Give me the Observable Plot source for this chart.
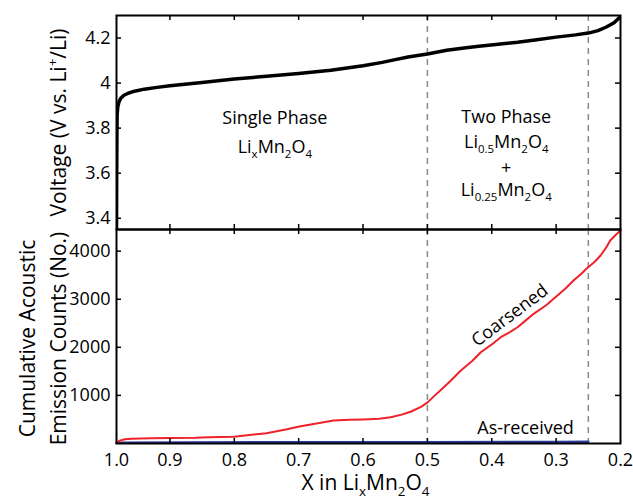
<!DOCTYPE html>
<html>
<head>
<meta charset="utf-8">
<script src="https://cdn.jsdelivr.net/npm/d3@7"></script>
<script src="https://cdn.jsdelivr.net/npm/@observablehq/plot@0.6"></script>
<style>
  html, body { margin: 0; padding: 0; background: white; }
  #chart { width: 633px; line-height: 0; }
  #chart svg { display: block; }
</style>
</head>
<body>
<div id="chart"></div>
<script>
// ---------- data ----------
const xDomain = [0.983, 0.2];                    // X in LixMn2O4 (reversed)
const xTickValues = [0.983, 0.9, 0.8, 0.7, 0.6, 0.5, 0.4, 0.3, 0.2];
const xTickLabels = ["1.0", "0.9", "0.8", "0.7", "0.6", "0.5", "0.4", "0.3", "0.2"];
const xTickMarks = [0.9, 0.8, 0.7, 0.6, 0.5, 0.4, 0.3];
const phaseBounds = [0.5, 0.25];

const vDomain = [3.35, 4.3];
const vTickValues = [3.4, 3.6, 3.8, 4.0, 4.2];
const vTickLabels = ["3.4", "3.6", "3.8", "4", "4.2"];

const aeDomain = [0, 4450];
const aeTickValues = [1000, 2000, 3000, 4000];
const aeTickLabels = ["1000", "2000", "3000", "4000"];

const voltageX = [0.983, 0.9827, 0.9823, 0.982, 0.981, 0.979, 0.976, 0.972, 0.965, 0.955, 0.94, 0.92, 0.9, 0.85, 0.8, 0.75, 0.7, 0.65, 0.6, 0.57, 0.55, 0.53, 0.5, 0.47, 0.44, 0.42, 0.39, 0.36, 0.33, 0.3, 0.27, 0.25, 0.235, 0.222, 0.21, 0.2];
const voltageV = [3.35, 3.60, 3.78, 3.86, 3.895, 3.918, 3.934, 3.945, 3.955, 3.964, 3.973, 3.981, 3.988, 4.003, 4.018, 4.030, 4.043, 4.057, 4.077, 4.092, 4.104, 4.116, 4.129, 4.146, 4.157, 4.163, 4.172, 4.181, 4.192, 4.204, 4.214, 4.222, 4.233, 4.249, 4.268, 4.295];

const coarsX = [0.983, 0.978, 0.97, 0.96, 0.93, 0.9, 0.86, 0.84, 0.8, 0.78, 0.75, 0.72, 0.697, 0.67, 0.646, 0.62, 0.6, 0.575, 0.557, 0.54, 0.526, 0.51, 0.5, 0.49, 0.48, 0.465, 0.448, 0.43, 0.417, 0.4, 0.386, 0.37, 0.36, 0.348, 0.335, 0.315, 0.298, 0.285, 0.273, 0.26, 0.253, 0.24, 0.231, 0.222, 0.216, 0.208, 0.2];
const coarsCounts = [20, 60, 90, 100, 108, 115, 118, 130, 140, 170, 215, 290, 360, 420, 478, 492, 499, 515, 547, 600, 660, 760, 850, 980, 1100, 1290, 1518, 1720, 1898, 2060, 2210, 2330, 2418, 2550, 2697, 2880, 3077, 3230, 3389, 3540, 3632, 3780, 3909, 4080, 4220, 4330, 4428];

const asRecX = [0.983, 0.75, 0.5, 0.3, 0.25];
const asRecCounts = [18, 24, 28, 32, 34];

const topNotes = [
  {x: 0.737, y: 3.843, text: "Single Phase"},
  {x: 0.737, y: 3.714, text: "Li_{x}Mn_{2}O_{4}"},
  {x: 0.3775, y: 3.849, text: "Two Phase"},
  {x: 0.3775, y: 3.738, text: "Li_{0.5}Mn_{2}O_{4}"},
  {x: 0.3775, y: 3.624, text: "+"},
  {x: 0.3775, y: 3.523, text: "Li_{0.25}Mn_{2}O_{4}"}
];
const coarsNote = [{x: 0.372, y: 2661, text: "Coarsened"}];
const asRecNote = [{x: 0.3475, y: 322, text: "As-received"}];

const vLabel = "Voltage (V vs. Li^{+}/Li)";
const aeLabel1 = "Cumulative Acoustic";
const aeLabel2 = "Emission Counts (No.)";
const xLabel = "X in Li_{x}Mn_{2}O_{4}";

// ---------- layout ----------
const font = "'Open Sans', 'Noto Sans', sans-serif";
const W = 633, ML = 116, MR = 13;
const innerW = W - ML - MR;
const panelH = 214;
const tick = 5;

const voltage = voltageX.map((x, i) => ({x, v: voltageV[i]}));
const coarsened = coarsX.map((x, i) => ({x, c: coarsCounts[i]}));
const asReceived = asRecX.map((x, i) => ({x, c: asRecCounts[i]}));

const xFmt = d => xTickLabels[xTickValues.indexOf(d)];
const vFmt = d => vTickLabels[vTickValues.indexOf(d)];
const aeFmt = d => aeTickLabels[aeTickValues.indexOf(d)];

function tickMarks(yTicks) {
  return [
    Plot.ruleY(yTicks, {stroke: "black", strokeWidth: 1.5, insetRight: innerW - tick}),
    Plot.ruleY(yTicks, {stroke: "black", strokeWidth: 1.5, insetLeft: innerW - tick}),
    Plot.ruleX(xTickMarks, {stroke: "black", strokeWidth: 1.5, insetBottom: panelH - tick}),
    Plot.ruleX(xTickMarks, {stroke: "black", strokeWidth: 1.5, insetTop: panelH - tick})
  ];
}

const dashed = Plot.ruleX(phaseBounds, {stroke: "#8a8a8a", strokeWidth: 1.5, strokeDasharray: "6,5"});
const yLab = (text, dx, dy) => Plot.text([text], {frameAnchor: "left", textAnchor: "middle", lineAnchor: "middle", dx, dy, rotate: -90, fontSize: 21, fill: "black"});

const topPlot = Plot.plot({
  width: W, height: 15 + panelH,
  marginTop: 15, marginBottom: 0, marginLeft: ML, marginRight: MR,
  x: {domain: xDomain, axis: null},
  y: {domain: vDomain, axis: null},
  style: {fontFamily: font, background: "white", overflow: "visible", color: "black"},
  marks: [
    dashed,
    Plot.line(voltage, {x: "x", y: "v", stroke: "black", strokeWidth: 3.5, clip: true}),
    ...tickMarks(vTickValues),
    Plot.frame({stroke: "black", strokeWidth: 2}),
    Plot.axisY(vTickValues, {anchor: "left", tickSize: 0, tickPadding: 6, fontSize: 18, tickFormat: vFmt, label: null, fill: "black"}),
    Plot.text(topNotes, {x: "x", y: "y", text: "text", fontSize: 18, fill: "black"}),
    yLab(vLabel, -57, 0)
  ]
});

const bottomPlot = Plot.plot({
  width: W, height: panelH + 57,
  marginTop: 0, marginBottom: 57, marginLeft: ML, marginRight: MR,
  x: {domain: xDomain, axis: null},
  y: {domain: aeDomain, axis: null},
  style: {fontFamily: font, background: "white", overflow: "visible", color: "black"},
  marks: [
    dashed,
    Plot.line(asReceived, {x: "x", y: "c", stroke: "#2b3d9b", strokeWidth: 2.5}),
    Plot.line(coarsened, {x: "x", y: "c", stroke: "#ee2228", strokeWidth: 2}),
    ...tickMarks(aeTickValues),
    Plot.frame({stroke: "black", strokeWidth: 2}),
    Plot.axisY(aeTickValues, {anchor: "left", tickSize: 0, tickPadding: 6, fontSize: 18, tickFormat: aeFmt, label: null, fill: "black"}),
    Plot.axisX(xTickValues, {anchor: "bottom", tickSize: 0, tickPadding: 10, fontSize: 18, tickFormat: xFmt, label: null, fill: "black"}),
    Plot.text(coarsNote, {x: "x", y: "y", text: "text", rotate: -37, fontSize: 18, fill: "black"}),
    Plot.text(asRecNote, {x: "x", y: "y", text: "text", fontSize: 18, fill: "black"}),
    yLab(aeLabel1, -88, 2),
    yLab(aeLabel2, -57, 2),
    Plot.text([xLabel], {frameAnchor: "bottom", textAnchor: "middle", lineAnchor: "middle", dx: -3, dy: 40, fontSize: 21, fill: "black"})
  ]
});

const chart = document.getElementById("chart");
chart.appendChild(topPlot);
chart.appendChild(bottomPlot);

// sub/superscript markup -> tspans
function richify(svg) {
  svg.querySelectorAll("text").forEach(t => {
    const s = t.textContent;
    if (!/[_^]\{/.test(s)) return;
    const fs = parseFloat(getComputedStyle(t).fontSize) || 16;
    while (t.firstChild) t.removeChild(t.firstChild);
    const re = /([_^])\{([^}]*)\}|([^_^]+)/g;
    let m, shift = 0;
    while ((m = re.exec(s))) {
      const ts = document.createElementNS("http://www.w3.org/2000/svg", "tspan");
      let target;
      if (m[1]) {
        target = m[1] === "_" ? 0.26 * fs : -0.42 * fs;
        ts.setAttribute("font-size", (0.64 * fs).toFixed(1));
        ts.textContent = m[2];
      } else {
        target = 0;
        ts.textContent = m[3];
      }
      ts.setAttribute("dy", (target - shift).toFixed(2));
      shift = target;
      t.appendChild(ts);
    }
  });
}
richify(topPlot);
richify(bottomPlot);
</script>
</body>
</html>
